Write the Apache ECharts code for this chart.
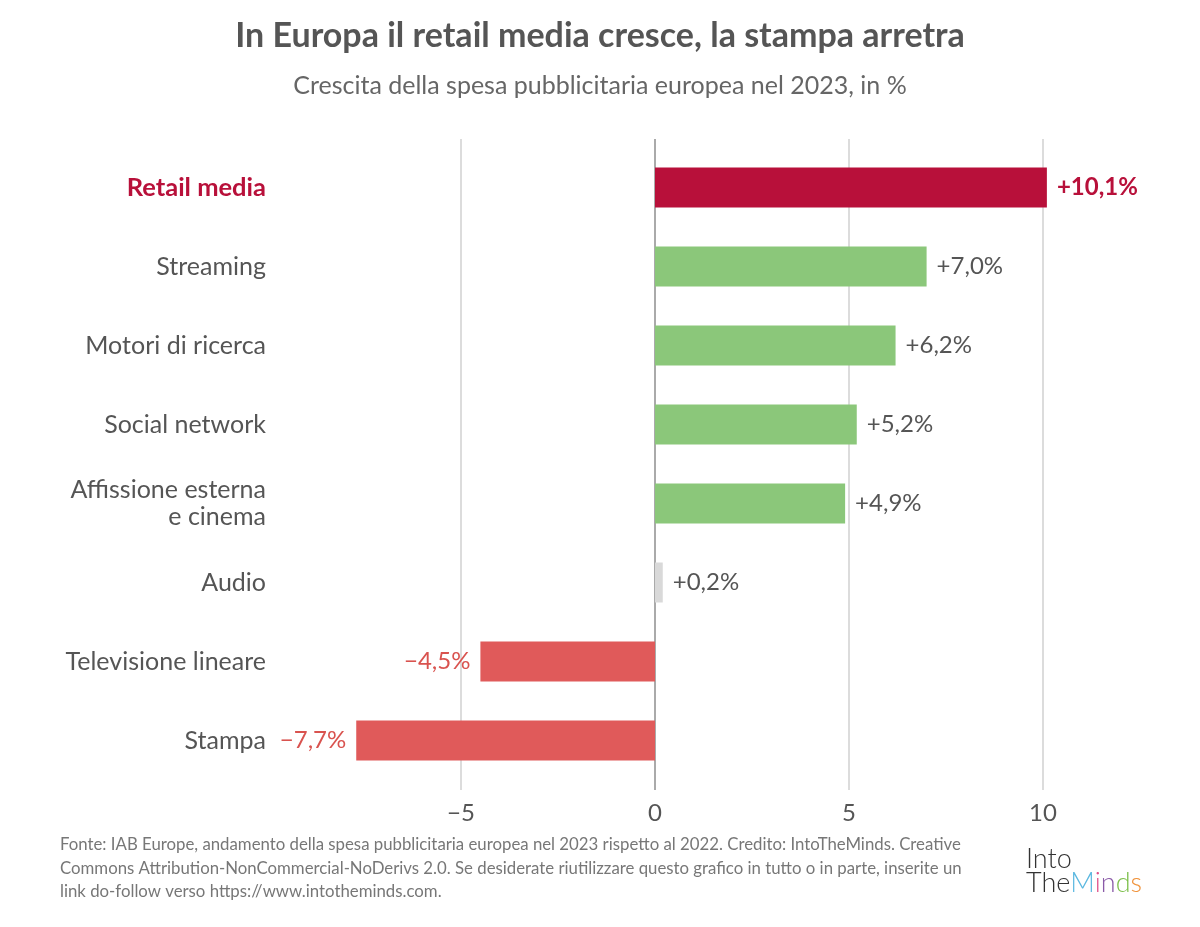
<!DOCTYPE html>
<html>
<head>
<meta charset="utf-8">
<script src="https://cdn.jsdelivr.net/npm/echarts@6/dist/echarts.min.js"></script>
<style>
  html, body { margin: 0; padding: 0; background: #fff; }
  #chart { width: 1200px; height: 927px; }
</style>
</head>
<body>
<div id="chart"></div>
<script>
// categories top to bottom
const categories = ['Retail media', 'Streaming', 'Motori di ricerca', 'Social network',
  'Affissione esterna\ne cinema', 'Audio', 'Televisione lineare', 'Stampa'];
const growth = [10.1, 7.0, 6.2, 5.2, 4.9, 0.2, -4.5, -7.7];
const barColors = ['#b8103a', '#8bc77a', '#8bc77a', '#8bc77a', '#8bc77a', '#d9d9d9', '#e05a5a', '#e05a5a'];
const tickStep = 5;
const axisMin = -10, axisMax = 12.5;

const footer = 'Fonte: IAB Europe, andamento della spesa pubblicitaria europea nel 2023 rispetto al 2022. Credito: IntoTheMinds. Creative\n' +
  'Commons Attribution-NonCommercial-NoDerivs 2.0. Se desiderate riutilizzare questo grafico in tutto o in parte, inserite un\n' +
  'link do-follow verso https://www.intotheminds.com.';

const FONT = 'Lato';

// formatta con virgola e segno
function fmtPct(v) {
  const s = Math.abs(v).toFixed(1).replace('.', ',');
  return (v < 0 ? '\u2212' : '+') + s + '%';
}

const chart = echarts.init(document.getElementById('chart'), null, { renderer: 'canvas' });

const option = {
  backgroundColor: '#fff',
  animation: false,
  textStyle: { fontFamily: FONT },
  title: [{
    text: 'In Europa il retail media cresce, la stampa arretra',
    left: 'center', top: 14,
    textStyle: { fontFamily: FONT, fontSize: 34, fontWeight: 'bold', color: '#555' }
  }, {
    text: 'Crescita della spesa pubblicitaria europea nel 2023, in %',
    left: 'center', top: 68,
    textStyle: { fontFamily: FONT, fontSize: 25, fontWeight: 'normal', color: '#666' }
  }],
  grid: [
    // griglia per le linee verticali (più alte delle barre)
    { left: 267, right: 60, top: 139, bottom: 137 },
    // griglia delle barre
    { left: 267, right: 60, top: 148, bottom: 147 }
  ],
  xAxis: [{
    gridIndex: 0, type: 'value', min: axisMin, max: axisMax, interval: tickStep,
    axisLine: { show: false }, axisTick: { show: false },
    axisLabel: {
      showMinLabel: false, showMaxLabel: false, margin: 11,
      fontFamily: FONT, fontSize: 24, color: '#555',
      formatter: v => (v === axisMin || v > 10) ? '' : String(v).replace('-', '\u2212')
    },
    splitLine: {
      show: true, showMinLine: false, showMaxLine: false,
      lineStyle: { color: ['#dcdcdc', '#aaa', '#dcdcdc', '#dcdcdc', '#dcdcdc'], width: 2 }
    }
  }, {
    gridIndex: 1, type: 'value', min: axisMin, max: axisMax, interval: tickStep,
    show: false, splitLine: { show: false }
  }],
  yAxis: [{
    gridIndex: 0, type: 'category', data: categories, inverse: true, show: false
  }, {
    gridIndex: 1, type: 'category', data: categories, inverse: true,
    axisLine: { show: false }, axisTick: { show: false },
    axisLabel: {
      margin: 1, fontFamily: FONT, fontSize: 25, color: '#555', lineHeight: 27, align: 'right',
      formatter: (v, i) => i === 0 ? '{hi|' + v + '}' : v,
      rich: { hi: { fontFamily: FONT, fontSize: 25.5, fontWeight: 'bold', color: '#b8103a' } }
    }
  }],
  series: [{
    type: 'bar', xAxisIndex: 1, yAxisIndex: 1, barWidth: 40,
    data: growth.map((v, i) => ({
      value: v,
      itemStyle: { color: barColors[i] },
      label: {
        show: true,
        position: v < 0 ? 'left' : 'right',
        distance: 10,
        formatter: fmtPct(v),
        fontFamily: FONT, fontSize: 24,
        fontWeight: i === 0 ? 'bold' : 'normal',
        color: i === 0 ? '#b8103a' : (v < 0 ? '#d9534f' : '#555')
      }
    }))
  }],
  graphic: [{
    type: 'text', left: 60, top: 833,
    style: { text: footer, fontFamily: FONT, fontSize: 16.8, lineHeight: 23.5, fill: '#777' }
  }, {
    type: 'text', left: 1026, top: 846,
    style: {
      text: '{a|Into}\n{a|The}{m|M}{i|i}{n|n}{d|d}{s|s}',
      rich: {
        a: { fontFamily: FONT, fontSize: 27, fontWeight: 300, fill: '#333', lineHeight: 24 },
        m: { fontFamily: FONT, fontSize: 27, fontWeight: 300, fill: '#5bb8e0', lineHeight: 24 },
        i: { fontFamily: FONT, fontSize: 27, fontWeight: 300, fill: '#e0508a', lineHeight: 24 },
        n: { fontFamily: FONT, fontSize: 27, fontWeight: 300, fill: '#8a5aa8', lineHeight: 24 },
        d: { fontFamily: FONT, fontSize: 27, fontWeight: 300, fill: '#7cbf4a', lineHeight: 24 },
        s: { fontFamily: FONT, fontSize: 27, fontWeight: 300, fill: '#f0923a', lineHeight: 24 }
      }
    }
  }]
};

chart.setOption(option);
</script>
</body>
</html>
